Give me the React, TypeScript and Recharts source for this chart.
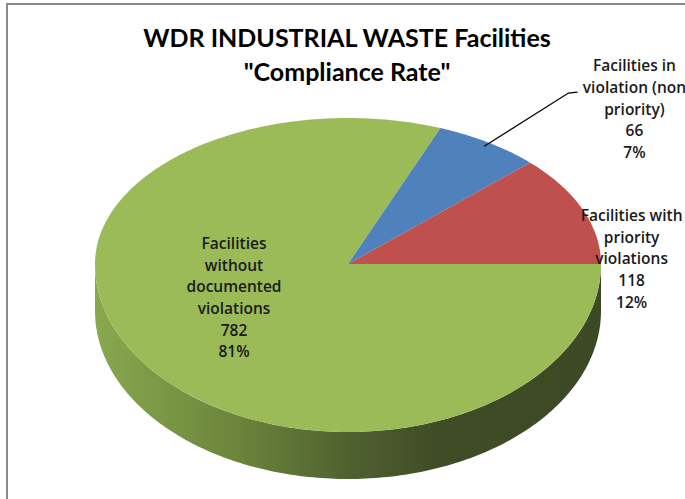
import React from "react";
import { PieChart, Pie } from "recharts";

// slice order is clockwise from 3 o'clock, like the Excel chart
const categories = [
  "Facilities without documented violations",
  "Facilities in violation (non priority)",
  "Facilities with priority violations",
];
const counts = [782, 66, 118];
const labelLines = [
  ["Facilities", "without", "documented", "violations"],
  ["Facilities in", "violation (non", "priority)"],
  ["Facilities with", "priority", "violations"],
];
const sliceColors = ["#9BBB59", "#4F81BD", "#C0504D"];
const titleLines = ["WDR INDUSTRIAL WASTE Facilities", '"Compliance Rate"'];

const data = categories.map((name, i) => ({ name, value: counts[i] }));

const WIDTH = 685;
const HEIGHT = 499;
const TITLE_FONT = "Lato, 'Open Sans', sans-serif";
const LABEL_FONT = "'Open Sans', Lato, sans-serif";

// tilt of the 3d pie, as fractions of the horizontal radius
const RY_TOP = 146 / 253;
const RY_BOTTOM = 168 / 253;
const DEPTH = 47 / 253;
const LINE_H = 21.7;

// where each data label sits, relative to its slice's mid angle point
const labelPlace = [
  { f: 0.55, dx: 1, dy: -19 },
  { f: 1, dx: 146, dy: -34 },
  { f: 1, dx: 49, dy: 49 },
];

function pt(cx: number, cy: number, r: number, deg: number, f = 1, dy = 0) {
  const a = (deg * Math.PI) / 180;
  const s = Math.sin(a);
  return [cx + r * f * Math.cos(a), cy - r * f * s * (s >= 0 ? RY_TOP : RY_BOTTOM) + dy];
}

function arc(cx: number, cy: number, r: number, a0: number, a1: number, dy = 0) {
  const n = Math.max(2, Math.ceil(Math.abs(a1 - a0)));
  const out: number[][] = [];
  for (let i = 0; i <= n; i++) out.push(pt(cx, cy, r, a0 + ((a1 - a0) * i) / n, 1, dy));
  return out;
}

const toPath = (pts: number[][]) =>
  pts.map((p, i) => `${i ? "L" : "M"}${p[0].toFixed(2)},${p[1].toFixed(2)}`).join("") + "Z";

function SideFace(props: any) {
  const { cx, cy, outerRadius: r, startAngle, endAngle, index } = props;
  const lo = Math.min(startAngle, endAngle);
  const hi = Math.max(startAngle, endAngle);
  const depth = r * DEPTH;
  const parts: string[] = [];
  for (let n = -2; n <= 1; n++) {
    const a = Math.max(lo, -180 + 360 * n);
    const b = Math.min(hi, 360 * n);
    if (a < b) {
      const top = arc(cx, cy, r, a, b);
      const bottom = arc(cx, cy, r, b, a, depth);
      parts.push(toPath([...top, ...bottom]));
    }
  }
  return (
    <g key={`side-${index}`}>
      {parts.map((d, k) => (
        <path key={k} d={d} fill={`url(#side-${index})`} />
      ))}
    </g>
  );
}

function TopFace(props: any) {
  const { cx, cy, outerRadius: r, startAngle, endAngle, index } = props;
  const d = toPath([[cx, cy], ...arc(cx, cy, r, startAngle, endAngle)]);
  return <path key={`top-${index}`} d={d} fill={sliceColors[index]} />;
}

function DataLabel(props: any) {
  const { cx, cy, outerRadius: r, midAngle, index, value, percent } = props;
  const place = labelPlace[index];
  const [px, py] = pt(cx, cy, r, midAngle, place.f);
  const lx = px + place.dx;
  const ly = py + place.dy;
  const lines = [...labelLines[index], String(value), `${Math.round(percent * 100)}%`];
  const y0 = ly - ((lines.length - 1) / 2) * LINE_H;
  let leader = null;
  if (index === 1) {
    const [sx, sy] = pt(cx, cy, r, midAngle, 0.97);
    const ex = lx - 66;
    const ey = ly - 15.5;
    leader = (
      <polyline
        points={`${sx},${sy} ${ex},${ey} ${ex + 9},${ey - 1}`}
        fill="none"
        stroke="#000"
        strokeWidth={1.3}
      />
    );
  }
  return (
    <g key={`lbl-${index}`}>
      {leader}
      <text
        textAnchor="middle"
        fontFamily={LABEL_FONT}
        fontSize={15.5}
        fontWeight={600}
        fill="#1a1a1a"
      >
        {lines.map((t, i) => (
          <tspan key={i} x={lx} y={y0 + i * LINE_H} dominantBaseline="central">
            {t}
          </tspan>
        ))}
      </text>
    </g>
  );
}

export default function App() {
  const pieProps = {
    data,
    dataKey: "value",
    nameKey: "name",
    cx: 348,
    cy: 264,
    outerRadius: 253,
    startAngle: 0,
    endAngle: -360,
    fill: "none",
    stroke: "none",
    labelLine: false,
    isAnimationActive: false,
  };

  return (
    <div
      style={{
        position: "absolute",
        left: 0,
        top: 0,
        width: WIDTH,
        height: HEIGHT,
        background: "#fff",
        overflow: "hidden",
      }}
    >
      <div
        style={{
          position: "absolute",
          left: 6,
          top: 3,
          width: WIDTH,
          height: HEIGHT,
          borderLeft: "2px solid #8a8a8a",
          borderTop: "2px solid #8a8a8a",
        }}
      />
      <div
        style={{
          position: "absolute",
          left: 0,
          top: 20,
          width: 694,
          textAlign: "center",
          fontFamily: TITLE_FONT,
          fontWeight: 700,
          fontSize: 25,
          lineHeight: "34px",
          color: "#000",
        }}
      >
        {titleLines.map((t) => (
          <div key={t}>{t}</div>
        ))}
      </div>
      <div style={{ position: "absolute", left: 0, top: 0 }}>
        <PieChart width={WIDTH} height={HEIGHT} margin={{ top: 0, right: 0, bottom: 0, left: 0 }}>
          <defs>
            {sliceColors.map((c, i) => (
              <linearGradient
                key={i}
                id={`side-${i}`}
                gradientUnits="userSpaceOnUse"
                x1={95}
                y1={0}
                x2={602}
                y2={0}
              >
                <stop offset="0" stopColor="#88a84f" />
                <stop offset="0.28" stopColor="#6b853b" />
                <stop offset="0.5" stopColor="#506130" />
                <stop offset="0.68" stopColor="#3f4c26" />
                <stop offset="1" stopColor="#3c4924" />
              </linearGradient>
            ))}
          </defs>
          <Pie {...pieProps} label={SideFace} />
          <Pie {...pieProps} label={TopFace} />
          <Pie {...pieProps} label={DataLabel} />
        </PieChart>
      </div>
    </div>
  );
}
